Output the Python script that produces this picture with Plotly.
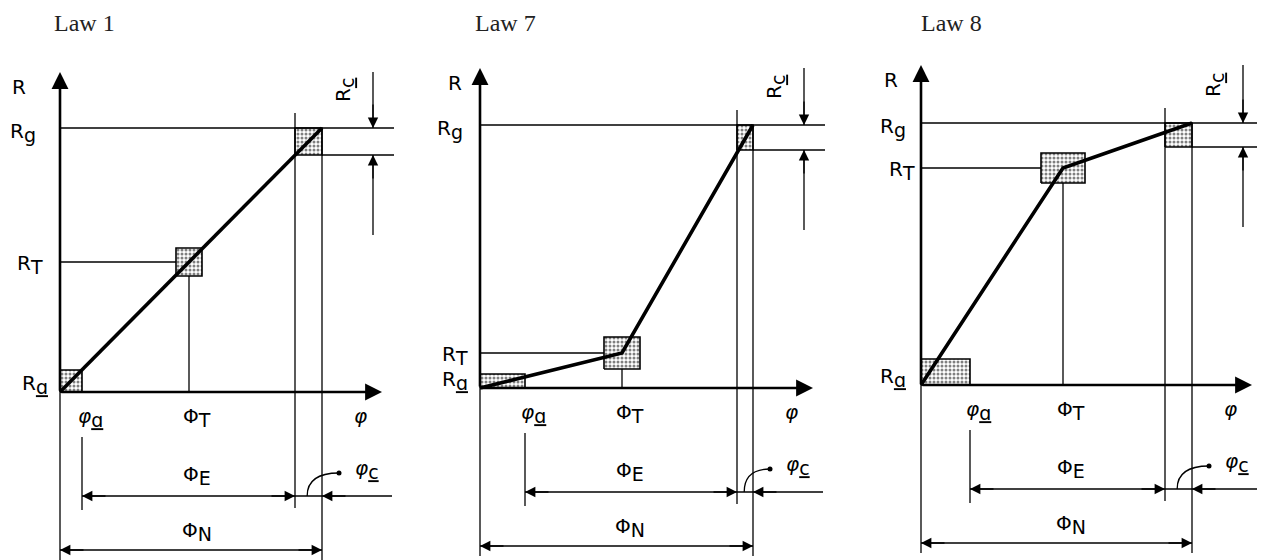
"""Three cam-law diagrams (Law 1, Law 7, Law 8): R versus phi with tolerance boxes."""

import plotly.graph_objects as go

W, H = 1265, 560
PAD = 8  # the page body margin
FW, FH = W - PAD, H - PAD

TITLES = ["Law 1", "Law 7", "Law 8"]

# law parameters (drawing units)
PHI_A = [22, 45, 49]
PHI_T = [129, 142, 142]
PHI_C = [27, 16, 27]
PHI_N = [262, 273, 271]
R_A = [22, 14, 26]
R_T = [130, 35, 217]
R_C = [27, 25, 24]
R_G = [264, 263, 262]
DPHI_T = [13, 18, 22]   # half width of the R_T tolerance box
DR_T = [14, 16, 15]     # half height of the R_T tolerance box

# page layout (pixels in the window)
PANEL_LEFT = [PAD, 420, 840]
PANEL_RIGHT = [420, 840, W]
ORIGIN_X = [60, 480, 921]
ORIGIN_Y = [392, 388, 385]
TITLE_X = [52, 473, 919]
R_DX = [-41, -25, -30]     # centre of the "R" label
RG_DX = [-22, -15, -13]    # right edge of the R_g label
RT_DX = [-15, -10, -4]
RA_DX = [-10, -10, -13]

FONT = "DejaVu Sans"
THIN = 1.3
DIM_E_Y = -104
DIM_N_Y = -158
BOTTOM = -168
TOP = 320

fig = go.Figure()


def refs(i):
    s = "" if i == 0 else str(i + 1)
    return "x" + s, "y" + s


def sub(t):
    return f"<sub><span style='font-size:19px'>{t}</span></sub>"


def seg(i, x0, y0, x1, y1, w=THIN):
    xr, yr = refs(i)
    fig.add_shape(type="line", xref=xr, yref=yr, x0=x0, y0=y0, x1=x1, y1=y1,
                  line=dict(color="black", width=w))


def arrow(i, tail, tip, w=THIN, size=1.6):
    xr, yr = refs(i)
    fig.add_annotation(x=tip[0], y=tip[1], ax=tail[0], ay=tail[1], xref=xr, yref=yr,
                       axref=xr, ayref=yr, text="", showarrow=True, arrowhead=2,
                       arrowwidth=w, arrowsize=size, arrowcolor="black", standoff=0)


def label(i, x, y, text, size=20, angle=0, xanchor="center"):
    xr, yr = refs(i)
    fig.add_annotation(x=x, y=y, xref=xr, yref=yr, text=text, showarrow=False,
                       textangle=angle, xanchor=xanchor, yanchor="middle",
                       font=dict(family=FONT, size=size, color="black"))


def box(i, x0, x1, y0, y1):
    xr, yr = refs(i)
    fig.add_trace(go.Scatter(
        x=[x0, x1, x1, x0, x0], y=[y0, y0, y1, y1, y0], xaxis=xr, yaxis=yr,
        mode="lines", fill="toself", fillcolor="white",
        fillpattern=dict(shape=".", fgcolor="black", bgcolor="white", size=4, solidity=0.45),
        line=dict(color="black", width=1.6), hoverinfo="skip", showlegend=False))


for i in range(3):
    xr, yr = refs(i)
    pa, pt, pc, pn = PHI_A[i], PHI_T[i], PHI_C[i], PHI_N[i]
    ra, rt, rc, rg = R_A[i], R_T[i], R_C[i], R_G[i]
    pe = pn - pc  # end of Phi_E

    # tolerance boxes
    box(i, 0, pa, 0, ra)
    box(i, pt - DPHI_T[i], pt + DPHI_T[i], rt - DR_T[i], rt + DR_T[i])
    box(i, pe, pn, rg - rc, rg)

    # the law itself
    fig.add_trace(go.Scatter(x=[0, pt, pn], y=[0, rt, rg], xaxis=xr, yaxis=yr,
                             mode="lines", line=dict(color="black", width=3.6),
                             hoverinfo="skip", showlegend=False))

    # axes
    seg(i, 0, BOTTOM, 0, 0)
    arrow(i, (0, 0), (0, TOP), w=2.6, size=1.3)
    arrow(i, (0, 0), (pn + 60, 0), w=2.6, size=1.3)

    # reference lines
    seg(i, 0, rg, pn + 72, rg)
    seg(i, pn, rg - rc, pn + 72, rg - rc)
    seg(i, 0, rt, pt - DPHI_T[i], rt)
    seg(i, pt, rt - DR_T[i], pt, 0)
    seg(i, pe, rg + 15, pe, DIM_E_Y - 12)
    seg(i, pn, rg, pn, BOTTOM)

    # R_c dimension
    xc = pn + 51
    seg(i, xc, TOP, xc, rg)
    arrow(i, (xc, rg + 25), (xc, rg))
    seg(i, xc, rg - rc, xc, rg - rc - 80)
    arrow(i, (xc, rg - rc - 25), (xc, rg - rc))
    label(i, pn + 22, rg + 38, "R" + sub("<u>c</u>"), angle=-90)

    # Phi_E dimension
    seg(i, pa, -45, pa, DIM_E_Y - 14)
    seg(i, pa, DIM_E_Y, pn + 70, DIM_E_Y)
    arrow(i, (pa + 25, DIM_E_Y), (pa, DIM_E_Y))
    arrow(i, (pe - 25, DIM_E_Y), (pe, DIM_E_Y))
    arrow(i, (pn + 25, DIM_E_Y), (pn, DIM_E_Y))
    label(i, pt + 8, DIM_E_Y + 21, "Φ" + sub("E"))

    # phi_c leader
    sx, dx, dy = pe + pc * 0.45, pn + 17, -81
    fig.add_shape(type="path", xref=xr, yref=yr,
                  path=f"M {sx},{DIM_E_Y} Q {sx},{dy} {dx},{dy}",
                  line=dict(color="black", width=THIN))
    fig.add_trace(go.Scatter(x=[dx], y=[dy], xaxis=xr, yaxis=yr, mode="markers",
                             marker=dict(color="black", size=5),
                             hoverinfo="skip", showlegend=False))
    label(i, pn + 45, dy + 4, "<i>φ</i>" + sub("<u>c</u>"))

    # Phi_N dimension
    seg(i, 0, DIM_N_Y, pn, DIM_N_Y)
    arrow(i, (25, DIM_N_Y), (0, DIM_N_Y))
    arrow(i, (pn - 25, DIM_N_Y), (pn, DIM_N_Y))
    label(i, pt + 8, DIM_N_Y + 19, "Φ" + sub("N"))

    # axis labels
    label(i, R_DX[i], TOP - 15, "R")
    label(i, RG_DX[i], rg - 4, "R" + sub("g"), xanchor="right")
    label(i, RT_DX[i], rt - 2, "R" + sub("T"), xanchor="right")
    label(i, RA_DX[i], 8, "R" + sub("<u>ɑ</u>"), xanchor="right")
    label(i, pa + 8, -25, "<i>φ</i>" + sub("<u>ɑ</u>"))
    label(i, pt + 8, -25, "Φ" + sub("T"))
    label(i, pn + 38, -24, "<i>φ</i>")

    # panel title, kept inside the top edge of the figure
    fig.add_annotation(x=(TITLE_X[i] - PAD) / FW, y=1, xref="paper", yref="paper",
                       text=TITLES[i], showarrow=False, xanchor="left", yanchor="top",
                       font=dict(family="Liberation Serif", size=24, color="#222222"))

    # axes with 1 unit = 1 pixel
    ax_name = "xaxis" if i == 0 else f"xaxis{i + 1}"
    ay_name = "yaxis" if i == 0 else f"yaxis{i + 1}"
    ox, oy = ORIGIN_X[i], ORIGIN_Y[i]
    fig.update_layout(**{
        ax_name: dict(domain=[(PANEL_LEFT[i] - PAD) / FW, (PANEL_RIGHT[i] - PAD) / FW],
                      range=[PANEL_LEFT[i] - ox, PANEL_RIGHT[i] - ox],
                      visible=False, anchor=yr, fixedrange=True),
        ay_name: dict(domain=[0, 1], range=[-(H - oy), oy - PAD],
                      visible=False, anchor=xr, fixedrange=True),
    })

fig.update_layout(width=FW, height=FH, margin=dict(l=0, r=0, t=0, b=0),
                  paper_bgcolor="white", plot_bgcolor="white", showlegend=False)

fig.write_html("out.html")
